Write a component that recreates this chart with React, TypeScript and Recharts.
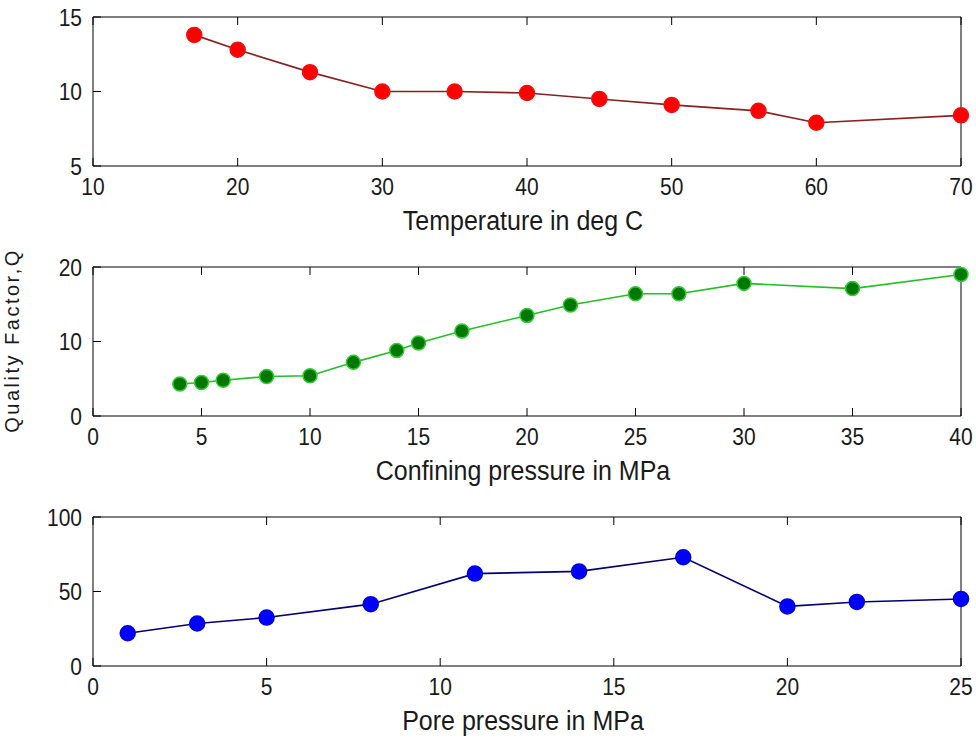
import React from 'react';
import { LineChart, Line, XAxis, YAxis } from 'recharts';

// Panel 1: temperature
const tempX = [17, 20, 25, 30, 35, 40, 45, 50, 56, 60, 70];
const tempQ = [13.8, 12.8, 11.3, 10.0, 10.0, 9.9, 9.5, 9.1, 8.7, 7.9, 8.4];
const tempXTicks = [10, 20, 30, 40, 50, 60, 70];
const tempYTicks = [5, 10, 15];

// Panel 2: confining pressure
const confX = [4, 5, 6, 8, 10, 12, 14, 15, 17, 20, 22, 25, 27, 30, 35, 40];
const confQ = [4.3, 4.5, 4.8, 5.3, 5.4, 7.2, 8.8, 9.8, 11.4, 13.5, 14.9, 16.4, 16.4, 17.8, 17.1, 19.0];
const confXTicks = [0, 5, 10, 15, 20, 25, 30, 35, 40];
const confYTicks = [0, 10, 20];

// Panel 3: pore pressure
const poreX = [1, 3, 5, 8, 11, 14, 17, 20, 22, 25];
const poreQ = [22, 28.5, 32.5, 41.5, 62, 63.5, 73, 40, 43, 45];
const poreXTicks = [0, 5, 10, 15, 20, 25];
const poreYTicks = [0, 50, 100];

const FONT = "'Liberation Sans', Arial, sans-serif";
const TXT = '#1a1a1a';
const STRETCH = 1.13;

const XTick = (props: any) => {
  const { x, y, payload } = props;
  return (
    <g transform={`translate(${x},${y}) scale(1,${STRETCH})`}>
      <text x={0} y={0} dy="0.72em" textAnchor="middle" fill={TXT} fontSize={21} fontFamily={FONT}>
        {payload.value}
      </text>
    </g>
  );
};

const YTick = (props: any) => {
  const { x, y, payload } = props;
  return (
    <g transform={`translate(${x},${y}) scale(1,${STRETCH})`}>
      <text x={0} y={0} dy="0.36em" textAnchor="end" fill={TXT} fontSize={21} fontFamily={FONT}>
        {payload.value}
      </text>
    </g>
  );
};

type PanelProps = {
  xs: number[];
  ys: number[];
  xTicks: number[];
  yTicks: number[];
  xLabel: string;
  lineColor: string;
  dotFill: string;
  dotStroke: string;
  dotR: number;
  yLabel?: string;
  height: number;
  mt: number;
};

function Panel({ xs, ys, xTicks, yTicks, xLabel, lineColor, dotFill, dotStroke, dotR, yLabel, height, mt }: PanelProps) {
  const data = xs.map((x, i) => ({ x, q: ys[i] }));
  const xDomain: [number, number] = [xTicks[0], xTicks[xTicks.length - 1]];
  const yDomain: [number, number] = [yTicks[0], yTicks[yTicks.length - 1]];
  return (
    <LineChart width={976} height={height} data={data} margin={{ top: mt, right: 14, left: 33, bottom: 20 }}>
      <XAxis
        dataKey="x"
        type="number"
        domain={xDomain}
        ticks={xTicks}
        interval={0}
        tickSize={-8}
        tickMargin={20}
        height={64}
        stroke="#000"
        tick={XTick}
        allowDecimals={false}
        label={(props: any) => {
          const vb = props.viewBox || {};
          const cx = vb.x + vb.width / 2 - 4;
          const by = vb.y + vb.height;
          return (
            <g transform={`translate(${cx},${by}) scale(1,${STRETCH})`}>
              <text x={0} y={0} textAnchor="middle" fill={TXT} fontSize={25} fontFamily={FONT}>
                {xLabel}
              </text>
            </g>
          );
        }}
      />
      <XAxis
        xAxisId="top"
        dataKey="x"
        orientation="top"
        type="number"
        domain={xDomain}
        ticks={xTicks}
        interval={0}
        tickSize={-8}
        height={1}
        stroke="#000"
        tickFormatter={() => ''}
      />
      <YAxis
        type="number"
        domain={yDomain}
        ticks={yTicks}
        interval={0}
        tickSize={-8}
        tickMargin={19}
        width={60}
        stroke="#000"
        tick={YTick}
        label={
          yLabel
            ? (props: any) => {
                const vb = props.viewBox || {};
                const cx = 12;
                const cy = vb.y + vb.height / 2 - 1;
                return (
                  <text
                    x={cx}
                    y={cy}
                    transform={`rotate(-90, ${cx}, ${cy})`}
                    textAnchor="middle"
                    dominantBaseline="central"
                    fill={TXT}
                    fontSize={20}
                    letterSpacing={2.5}
                    fontFamily={FONT}
                  >
                    {yLabel}
                  </text>
                );
              }
            : undefined
        }
      />
      <YAxis
        yAxisId="right"
        orientation="right"
        type="number"
        domain={yDomain}
        ticks={yTicks}
        interval={0}
        tickSize={-8}
        width={1}
        stroke="#000"
        tickFormatter={() => ''}
      />
      <Line
        dataKey="q"
        type="linear"
        stroke={lineColor}
        strokeWidth={1.6}
        isAnimationActive={false}
        dot={{ r: dotR, fill: dotFill, stroke: dotStroke, strokeWidth: 1.5 }}
        activeDot={false}
      />
    </LineChart>
  );
}

export default function App() {
  return (
    <div style={{ position: 'absolute', left: 0, top: 0, width: 976, height: 742, background: '#fff' }}>
      <div style={{ position: 'absolute', left: 0, top: 0 }}>
        <Panel
          xs={tempX}
          ys={tempQ}
          xTicks={tempXTicks}
          yTicks={tempYTicks}
          xLabel="Temperature in deg C"
          lineColor="#8a2020"
          dotFill="#ff0000"
          dotStroke="#f01010"
          dotR={7.5}
          height={250}
          mt={16}
        />
      </div>
      <div style={{ position: 'absolute', left: 0, top: 225 }}>
        <Panel
          xs={confX}
          ys={confQ}
          xTicks={confXTicks}
          yTicks={confYTicks}
          xLabel="Confining pressure in MPa"
          lineColor="#22c022"
          dotFill="#007800"
          dotStroke="#33cc33"
          dotR={7}
          yLabel="Quality Factor,Q"
          height={275}
          mt={41}
        />
      </div>
      <div style={{ position: 'absolute', left: 0, top: 500 }}>
        <Panel
          xs={poreX}
          ys={poreQ}
          xTicks={poreXTicks}
          yTicks={poreYTicks}
          xLabel="Pore pressure in MPa"
          lineColor="#000070"
          dotFill="#0000ff"
          dotStroke="#0000e0"
          dotR={7.5}
          height={250}
          mt={16}
        />
      </div>
    </div>
  );
}
